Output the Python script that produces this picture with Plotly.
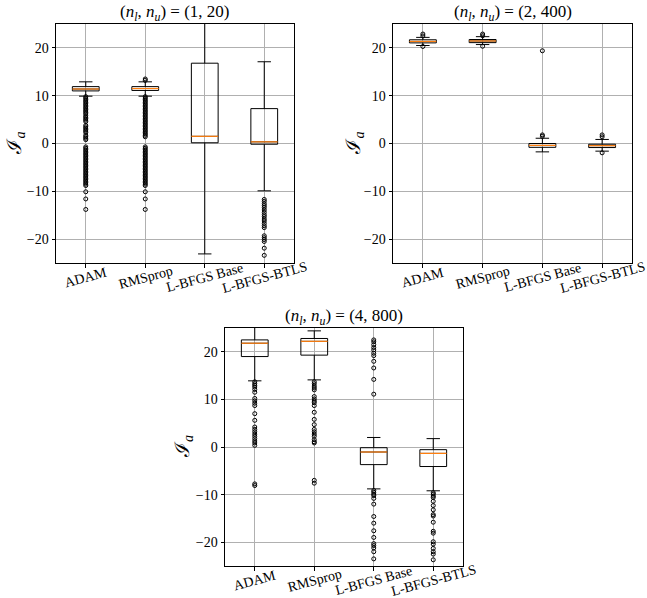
import plotly.graph_objects as go

methods = ["ADAM", "RMSprop", "L-BFGS Base", "L-BFGS-BTLS"]
positions = [1, 2, 3, 4]
titles = ["(1, 20)", "(2, 400)", "(4, 800)"]

# ---- panel 1: (n_l, n_u) = (1, 20)
p1_q1 = [11.0, 11.1, 0.15, -0.15]
p1_med = [11.4, 11.5, 1.5, 0.35]
p1_q3 = [11.9, 11.9, 16.8, 7.3]
p1_lo = [9.9, 9.9, -23.1, -9.9]
p1_hi = [12.9, 12.9, 27.0, 17.1]
p1_out_adam = [9.8, 9.5, 9.2, 8.9, 8.6, 8.3, 8.0, 7.7, 7.4, 7.1, 6.8, 6.5, 6.2, 5.8, 5.5,
               5.2, 4.9, 4.6, 3.8, 3.5, 3.2, 2.9, 2.6, 2.3, 1.7, 1.4, 1.1, 0.8, -0.7, -1.0,
               -1.3, -1.6, -1.9, -2.2, -2.5, -2.8, -3.1, -3.4, -3.7, -4.0, -4.3, -4.6, -4.9,
               -5.2, -5.5, -5.8, -6.1, -6.4, -6.7, -7.0, -7.3, -7.6, -7.9, -8.2, -8.5, -8.8,
               -10.1, -11.6, -13.8]
p1_out_rms = [13.2, 13.5, 9.8, 9.5, 9.2, 8.9, 8.6, 8.3, 8.0, 7.7, 7.4, 7.1, 6.8, 6.5, 6.2,
              5.9, 5.6, 5.3, 5.0, 4.7, 4.4, 4.1, 3.8, 3.5, 3.2, 2.9, 2.6, 2.3, 2.0, 1.7, 1.4,
              -0.7, -1.0, -1.3, -1.6, -1.9, -2.2, -2.5, -2.8, -3.1, -3.4, -3.7, -4.0, -4.3,
              -4.6, -4.9, -5.2, -5.5, -5.8, -6.1, -6.4, -6.7, -7.0, -7.3, -7.6, -7.9, -8.2,
              -8.5, -8.8, -10.1, -11.6, -13.8]
p1_out_base = []
p1_out_btls = [-11.7, -12.1, -12.6, -13.0, -13.4, -13.9, -14.4, -14.9, -15.3, -15.8, -16.2,
               -16.7, -17.2, -17.6, -19.3, -19.7, -20.1, -20.5, -21.9, -23.4]

# ---- panel 2: (n_l, n_u) = (2, 400)
p2_q1 = [21.05, 21.1, -0.8, -0.85]
p2_med = [21.35, 21.45, -0.4, -0.45]
p2_q3 = [21.7, 21.75, 0.0, -0.15]
p2_lo = [20.5, 20.7, -1.75, -1.6]
p2_hi = [22.2, 22.35, 1.1, 0.85]
p2_out_adam = [22.5, 22.9, 20.3]
p2_out_rms = [22.55, 22.9, 20.35]
p2_out_base = [1.5, 1.8, 19.4]
p2_out_btls = [1.4, 1.8, -1.95]

# ---- panel 3: (n_l, n_u) = (4, 800)
p3_q1 = [19.0, 19.3, -3.7, -4.1]
p3_med = [21.8, 22.2, -1.05, -1.34]
p3_q3 = [22.5, 22.8, -0.15, -0.56]
p3_lo = [13.9, 14.1, -8.8, -9.2]
p3_hi = [26.5, 24.4, 2.0, 1.76]
p3_out_adam = [13.7, 13.3, 12.96, 12.6, 12.1, 11.5, 10.2, 9.7, 9.2, 8.7, 7.0, 5.6, 4.2,
               3.7, 3.2, 2.7, 2.25, 1.76, 1.27, 0.85, 0.35, -7.75, -8.1]
p3_out_rms = [13.7, 13.3, 12.8, 12.4, 12.0, 10.6, 10.1, 9.65, 9.3, 8.7, 7.3, 5.8, 4.7, 3.7,
              3.2, 2.7, 2.25, 1.55, 1.1, 0.85, -7.0, -7.6]
p3_out_base = [22.5, 22.1, 21.5, 20.9, 20.4, 19.7, 19.2, 18.0, 16.6, 14.2, 11.1, -9.15,
               -9.5, -9.9, -10.2, -10.8, -12.0, -14.6, -16.0, -17.6, -19.0, -20.3, -20.7,
               -21.2, -22.0, -23.5]
p3_out_btls = [-9.6, -9.9, -10.3, -10.6, -11.4, -12.3, -13.2, -14.2, -14.5, -15.8, -17.7,
               -18.1, -19.9, -20.4, -21.3, -22.0, -22.5, -23.7]

panels = [
    (p1_q1, p1_med, p1_q3, p1_lo, p1_hi, [p1_out_adam, p1_out_rms, p1_out_base, p1_out_btls]),
    (p2_q1, p2_med, p2_q3, p2_lo, p2_hi, [p2_out_adam, p2_out_rms, p2_out_base, p2_out_btls]),
    (p3_q1, p3_med, p3_q3, p3_lo, p3_hi, [p3_out_adam, p3_out_rms, p3_out_base, p3_out_btls]),
]

W, H = 647, 598
# axes rectangles in pixels: (left, right, top, bottom)
rects = [(56, 294, 24, 263), (393, 632, 24, 263), (225, 463, 328, 566)]
ylab_x = [15, 354, 183]

FONT = "Liberation Serif, DejaVu Serif, serif"
BW = 0.45

fig = go.Figure()
layout = dict(width=W, height=H, margin=dict(l=0, r=0, t=0, b=0),
              paper_bgcolor="white", plot_bgcolor="white", showlegend=False,
              font=dict(family=FONT, size=14, color="black"))
annotations = []

for i, (q1, med, q3, lo, hi, outs) in enumerate(panels):
    n = "" if i == 0 else str(i + 1)
    xa, ya = "x" + n, "y" + n
    L, R, T, B = rects[i]
    dom_x = [L / W, R / W]
    dom_y = [1 - B / H, 1 - T / H]
    common = dict(showline=True, mirror=True, linecolor="black", linewidth=1,
                  ticks="outside", ticklen=3.5, tickcolor="black", tickwidth=0.8,
                  showgrid=True, gridcolor="#b0b0b0", gridwidth=0.8, zeroline=False)
    layout["xaxis" + n] = dict(domain=dom_x, range=[0.5, 4.5], anchor=ya,
                               tickmode="array", tickvals=positions, showticklabels=False,
                               **common)
    layout["yaxis" + n] = dict(domain=dom_y, range=[-25, 25], anchor=xa,
                               tickmode="array", tickvals=[-20, -10, 0, 10, 20],
                               tickfont=dict(size=14, family=FONT), **common)
    for j, p in enumerate(positions):
        fig.add_trace(go.Box(x=[p], q1=[q1[j]], median=[med[j]], q3=[q3[j]],
                             lowerfence=[lo[j]], upperfence=[hi[j]], width=BW,
                             whiskerwidth=0.5, boxpoints=False,
                             line=dict(color="black", width=1),
                             fillcolor="rgba(0,0,0,0)", xaxis=xa, yaxis=ya,
                             hoverinfo="skip"))
        fig.add_trace(go.Scatter(x=[p - BW / 2, p + BW / 2], y=[med[j], med[j]],
                                 mode="lines", line=dict(color="#ff7f0e", width=1.2),
                                 xaxis=xa, yaxis=ya, hoverinfo="skip"))
        if outs[j]:
            fig.add_trace(go.Scatter(x=[p] * len(outs[j]), y=outs[j], mode="markers",
                                     marker=dict(symbol="circle-open", size=4,
                                                 color="black", line=dict(width=1)),
                                     xaxis=xa, yaxis=ya, hoverinfo="skip", cliponaxis=True))
        annotations.append(dict(x=p, xref=xa, y=dom_y[0], yref="paper", text=methods[j],
                                showarrow=False, textangle=-15, xanchor="center",
                                yanchor="middle", yshift=-14,
                                font=dict(size=14, family=FONT)))
    annotations.append(dict(x=(dom_x[0] + dom_x[1]) / 2, xref="paper", y=dom_y[1],
                            yref="paper", showarrow=False, xanchor="center",
                            yanchor="bottom", yshift=-2,
                            text="(<i>n</i><sub><i>l</i></sub>, <i>n</i><sub><i>u</i></sub>) = " + titles[i],
                            font=dict(size=17, family=FONT)))
    annotations.append(dict(x=ylab_x[i] / W, xref="paper", y=(dom_y[0] + dom_y[1]) / 2,
                            yref="paper", showarrow=False, textangle=-90,
                            xanchor="center", yanchor="middle",
                            text="ℐ<sub><i>a</i></sub>",
                            font=dict(size=20, family=FONT)))

layout["annotations"] = annotations
fig.update_layout(**layout)
fig.write_html("out.html", config={"displayModeBar": False},
               post_script="document.body.style.margin='0';document.body.style.overflow='hidden';")
